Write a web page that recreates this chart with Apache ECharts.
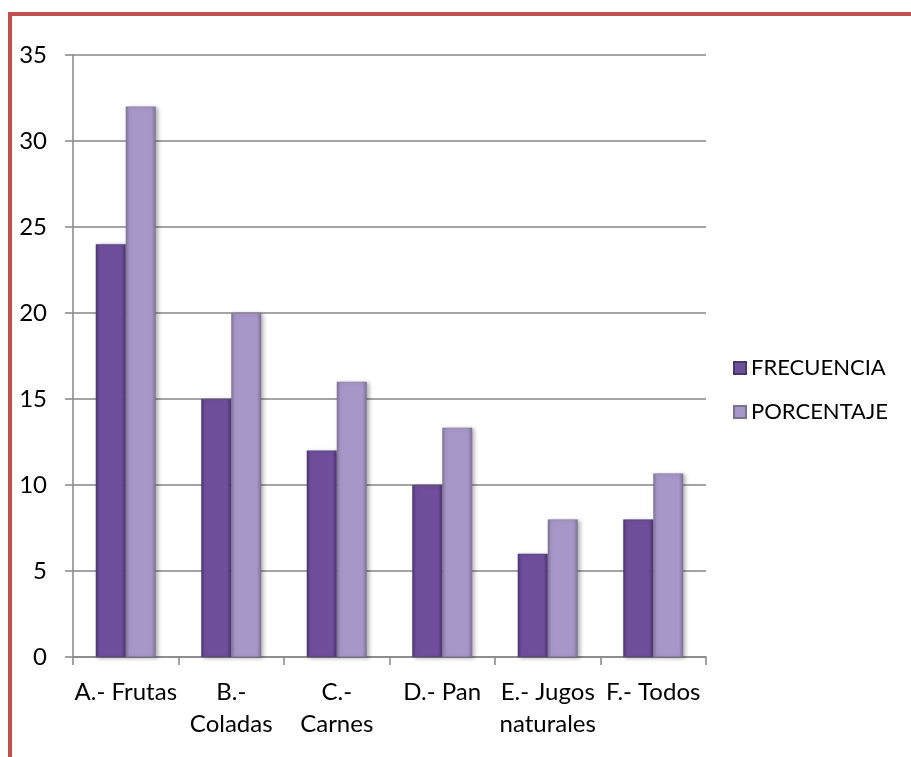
<!DOCTYPE html>
<html><head><meta charset="utf-8">
<script src="https://cdn.jsdelivr.net/npm/echarts@6/dist/echarts.min.js"></script>
<style>html,body{margin:0;padding:0;background:#fff}#c{width:911px;height:757px}</style>
</head><body><div id="c"></div>
<script>
const categories = ['A.- Frutas', 'B.-\nColadas', 'C.-\nCarnes', 'D.- Pan', 'E.- Jugos\nnaturales', 'F.- Todos'];
const frecuencia = [24, 15, 12, 10, 6, 8];
const porcentaje = [32, 20, 16, 13.33, 8, 10.67];
const yTicks = {min: 0, max: 35, interval: 5};

const font = 'Lato, "Open Sans", sans-serif';
function grad(edge, mid) {
  return new echarts.graphic.LinearGradient(0, 0, 1, 0, [
    {offset: 0, color: edge}, {offset: 0.12, color: mid}, {offset: 0.85, color: mid}, {offset: 1, color: edge}
  ]);
}
const chart = echarts.init(document.getElementById('c'), null, {renderer: 'canvas'});
chart.setOption({
  animation: false,
  backgroundColor: '#fff',
  graphic: [
    {type: 'rect', shape: {x: 8, y: 12, width: 903, height: 4}, style: {fill: '#C0504D'}, silent: true},
    {type: 'rect', shape: {x: 8, y: 12, width: 4, height: 745}, style: {fill: '#C0504D'}, silent: true}
  ],
  grid: {left: 73, right: 205, top: 55, bottom: 100, containLabel: false},
  legend: {
    orient: 'vertical', left: 728, top: 352, itemGap: 22, itemWidth: 12, itemHeight: 12,
    icon: 'rect',
    textStyle: {fontFamily: font, fontSize: 22, color: '#000', padding: [0, 0, 0, 0]},
    data: ['FRECUENCIA', 'PORCENTAJE']
  },
  xAxis: {
    type: 'category', data: categories,
    axisLine: {lineStyle: {color: '#868686', width: 1.5}},
    axisTick: {show: true, length: 8, alignWithLabel: false, lineStyle: {color: '#868686', width: 1.5}},
    axisLabel: {fontFamily: font, fontSize: 24, color: '#000', margin: 19, lineHeight: 32, interval: 0, verticalAlign: 'top'}
  },
  yAxis: {
    type: 'value', min: yTicks.min, max: yTicks.max, interval: yTicks.interval,
    axisLine: {show: true, lineStyle: {color: '#868686', width: 1.5}},
    axisTick: {show: true, length: 8, lineStyle: {color: '#868686', width: 1.5}},
    splitLine: {lineStyle: {color: '#868686', width: 1.5}},
    axisLabel: {fontFamily: font, fontSize: 24, color: '#000', margin: 26}
  },
  series: [
    {name: 'FRECUENCIA', type: 'bar', data: frecuencia, barWidth: 30, barGap: '0%',
     itemStyle: {color: grad('#4d3672', '#6f4e9c'), borderColor: '#4a3670', borderWidth: 0.5,
       shadowColor: 'rgba(0,0,0,0.3)', shadowBlur: 4, shadowOffsetX: 2, shadowOffsetY: 1}},
    {name: 'PORCENTAJE', type: 'bar', data: porcentaje, barWidth: 30, barGap: '0%',
     itemStyle: {color: grad('#807499', '#a797c8'), borderColor: '#7d7096', borderWidth: 0.5,
       shadowColor: 'rgba(0,0,0,0.3)', shadowBlur: 4, shadowOffsetX: 2, shadowOffsetY: 1}}
  ]
});
</script></body></html>
